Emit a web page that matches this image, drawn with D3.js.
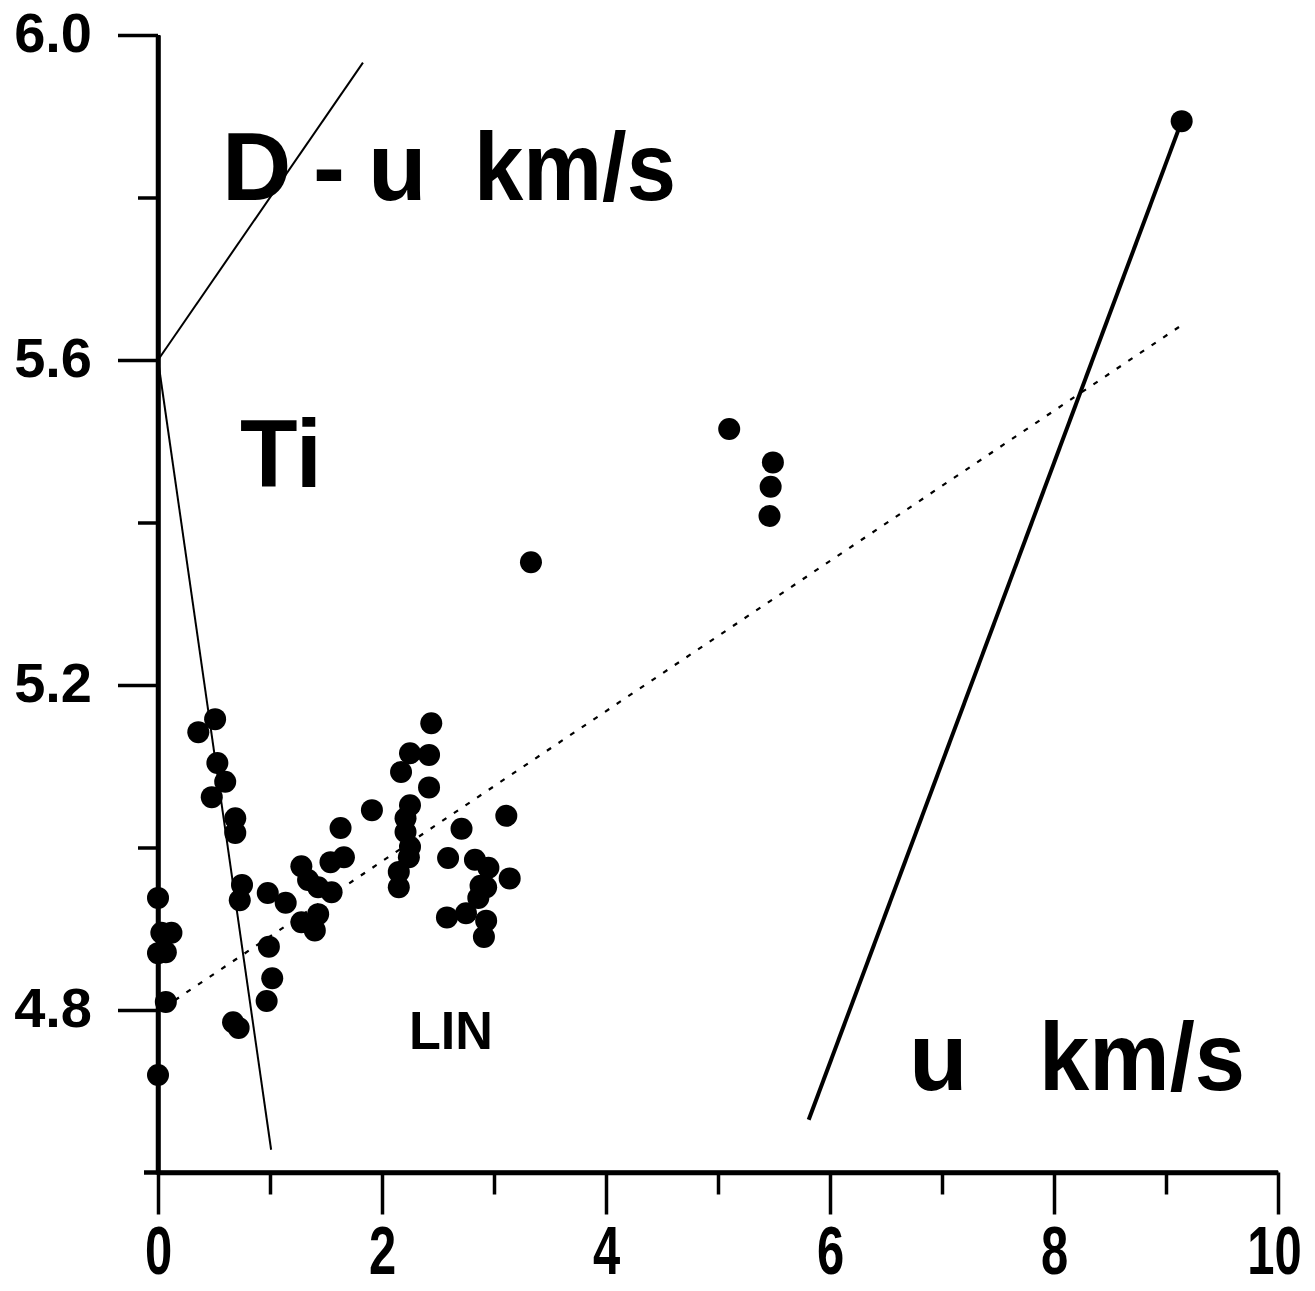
<!DOCTYPE html>
<html>
<head>
<meta charset="utf-8">
<script src="https://cdn.jsdelivr.net/npm/d3@7"></script>
<style>
  html, body { margin: 0; padding: 0; background: #fff; }
  svg { display: block; }
  text { font-family: "Liberation Sans", Arial, sans-serif; font-weight: bold; fill: #000; }
</style>
</head>
<body>
<svg id="chart" width="1315" height="1291"></svg>
<script>
// Particle velocity u (km/s) and shock velocity D (km/s) for titanium
const uValues = [
  0.36, 0.51, 0.53, 0.60, 0.48, 0.69, 0.69, 0.75, 0.73, 0.98,
  1.14, 1.28, 1.34, 1.43, 1.54, 1.66, 1.55, 1.63, 1.43, 1.28,
  1.40, 1.91, 0.99, 1.02, 0.97, 0.67, 0.72, 0.00, 0.03, 0.12,
  0.00, 0.07, 0.07, 0.00, 2.44, 2.25, 2.42, 2.17, 2.42, 2.25,
  2.21, 2.21, 2.25, 2.24, 2.15, 2.15, 2.71, 3.11, 2.59, 2.83,
  2.95, 3.14, 2.88, 2.93, 2.86, 2.58, 2.75, 2.93, 2.91, 3.33,
  5.10, 5.49, 5.47, 5.46, 9.14
];
const dValues = [
  5.142, 5.158, 5.104, 5.081, 5.062, 5.036, 5.018, 4.954, 4.935, 4.944,
  4.932, 4.977, 4.960, 4.951, 4.982, 4.988, 4.945, 5.024, 4.918, 4.908,
  4.898, 5.046, 4.878, 4.839, 4.811, 4.785, 4.778, 4.938, 4.895, 4.895,
  4.870, 4.871, 4.810, 4.720, 5.153, 5.116, 5.114, 5.093, 5.074, 5.052,
  5.036, 5.019, 5.001, 4.988, 4.970, 4.951, 5.023, 5.039, 4.987, 4.985,
  4.975, 4.962, 4.953, 4.951, 4.938, 4.914, 4.919, 4.910, 4.890, 5.351,
  5.515, 5.474, 5.444, 5.408, 5.894
];

// Reference lines, as [u, D] end points
const lineDu = [[0, 5.6], [1.83, 5.966]];
const lineTi = [[0, 5.6], [1.01, 4.628]];
const lineU = [[5.81, 4.665], [9.14, 5.894]];
const lineLin = [[0.15, 4.812], [9.12, 5.641]];

// Axis ticks
const xMajorTicks = [0, 2, 4, 6, 8, 10];
const xMinorTicks = [1, 3, 5, 7, 9];
const yMajorTicks = [4.8, 5.2, 5.6, 6.0];
const yMinorTicks = [5.0, 5.4, 5.8];

const svg = d3.select("#chart");
svg.append("rect").attr("width", 1315).attr("height", 1291).attr("fill", "#fff");

const x = d3.scaleLinear().domain([0, 10]).range([158, 1278]);
const y = d3.scaleLinear().domain([4.6, 6.0]).range([1172.5, 35]);

// Axes
const xAxisY = y(4.6), yAxisX = x(0);

const gxMinor = svg.append("g").attr("transform", `translate(0,${xAxisY})`)
  .call(d3.axisBottom(x).tickValues(xMinorTicks).tickSize(22).tickSizeOuter(0).tickFormat(""));
const gx = svg.append("g").attr("transform", `translate(0,${xAxisY})`)
  .call(d3.axisBottom(x).tickValues(xMajorTicks).tickSize(42).tickSizeOuter(0).tickPadding(11)
    .tickFormat(d3.format("d")));
const gyMinor = svg.append("g").attr("transform", `translate(${yAxisX},0)`)
  .call(d3.axisLeft(y).tickValues(yMinorTicks).tickSize(20).tickSizeOuter(0).tickFormat(""));
const gy = svg.append("g").attr("transform", `translate(${yAxisX},0)`)
  .call(d3.axisLeft(y).tickValues(yMajorTicks).tickSize(40).tickSizeOuter(0).tickPadding(26)
    .tickFormat(d3.format(".1f")));

[gxMinor, gx, gyMinor, gy].forEach(g => {
  g.selectAll(".tick line").attr("stroke", "#000").attr("stroke-width", 3.5);
  g.select(".domain").attr("stroke", "#000").attr("stroke-width", 4.5);
});
gx.select(".domain").attr("d", `M${x(0) - 14},0H${x(10)}`);
gy.select(".domain").attr("d", `M0,${y(6.0)}V${y(4.6) + 2}`);

// Narrow, tall digits under the u axis
gx.selectAll(".tick text")
  .attr("font-size", 68).attr("font-family", "Liberation Sans, Arial, sans-serif")
  .attr("font-weight", "bold").attr("fill", "#000")
  .attr("transform", d => d === 10 ? "translate(-4,0) scale(0.72,1)" : "scale(0.72,1)");
gy.selectAll(".tick text")
  .attr("font-size", 56).attr("font-family", "Liberation Sans, Arial, sans-serif")
  .attr("font-weight", "bold").attr("fill", "#000").attr("dy", "0.3em");

// Reference lines
const line = d3.line().x(d => x(d[0])).y(d => y(d[1]));
svg.append("path").attr("d", line(lineDu)).attr("fill", "none")
  .attr("stroke", "#000").attr("stroke-width", 2);
svg.append("path").attr("d", line(lineTi)).attr("fill", "none")
  .attr("stroke", "#000").attr("stroke-width", 2);
svg.append("path").attr("d", line(lineU)).attr("fill", "none")
  .attr("stroke", "#000").attr("stroke-width", 4);
svg.append("path").attr("d", line(lineLin)).attr("fill", "none")
  .attr("stroke", "#000").attr("stroke-width", 2.2).attr("stroke-dasharray", "5 9");

// Data points
svg.append("g").selectAll("circle")
  .data(d3.zip(uValues, dValues))
  .join("circle")
  .attr("cx", d => x(d[0]))
  .attr("cy", d => y(d[1]))
  .attr("r", 11)
  .attr("fill", "#000");

// Labels
const lab = (t, px, py, size, len) => {
  const el = svg.append("text").attr("x", px).attr("y", py).attr("font-size", size).text(t);
  if (len) el.attr("textLength", len).attr("lengthAdjust", "spacingAndGlyphs");
  return el;
};
lab("D", 222, 200, 96);
lab("-", 313, 200, 96);
lab("u", 368, 200, 96);
lab("km/s", 474, 200, 96, 202);
lab("Ti", 240, 487, 96, 82);
lab("u", 909, 1090, 96);
lab("km/s", 1039, 1090, 96, 206);
lab("LIN", 409, 1049, 54, 84);
</script>
</body>
</html>
